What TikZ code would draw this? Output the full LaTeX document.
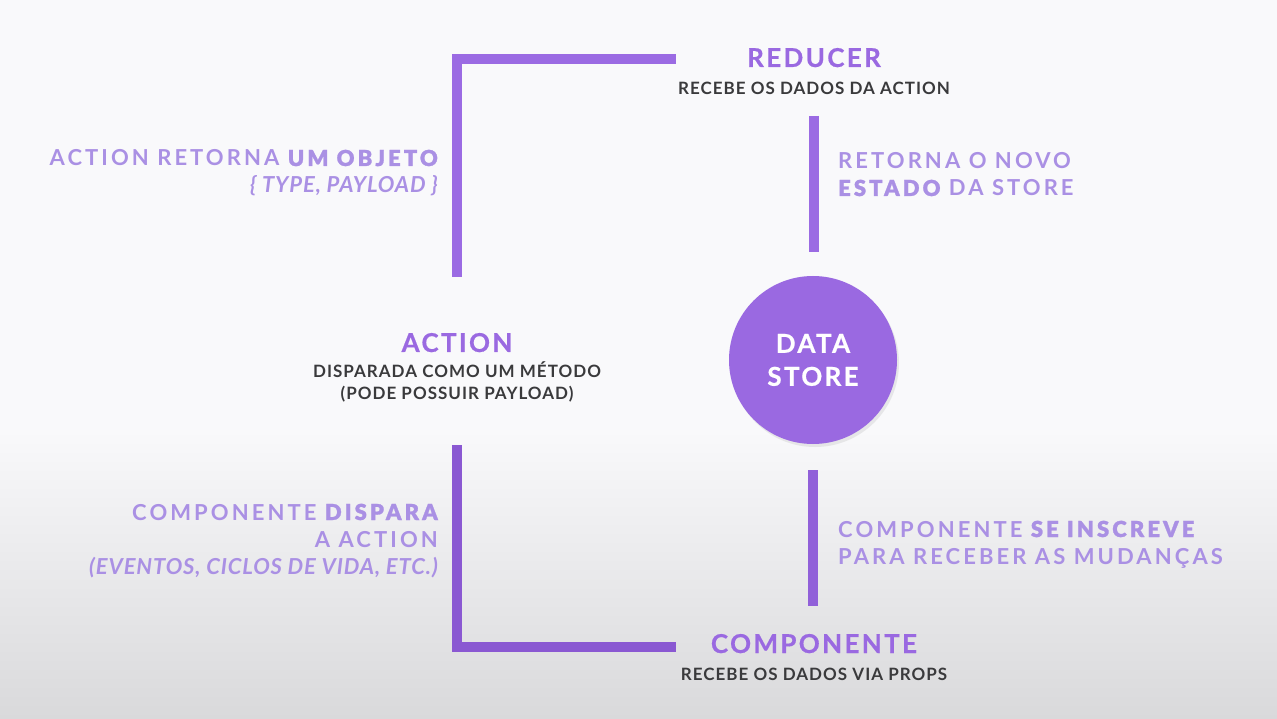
\documentclass[tikz,border=0pt]{standalone}
\usepackage{fontspec}
\setmainfont{Lato}
\newfontfamily\headfont[LetterSpace=9,FakeBold=0.6]{Lato Bold}
\newfontfamily\subfont[LetterSpace=6]{Lato}
\newfontfamily\notefont[LetterSpace=14]{Lato}
\newfontfamily\noteitalic[LetterSpace=4]{Lato}
\newfontfamily\noteheavy[LetterSpace=14,FakeBold=1.2]{Lato Bold}
\usetikzlibrary{shadows}
\definecolor{rxPurple}{HTML}{9A69E1}
\definecolor{rxLine}{HTML}{9B6BE3}
\definecolor{rxLineDark}{HTML}{8A58D2}
\definecolor{rxNote}{HTML}{AA90E4}
\definecolor{rxDark}{HTML}{3A3A3C}
\definecolor{bgTop}{HTML}{F9F9FB}
\definecolor{bgBottom}{HTML}{D9D9DB}
\newcommand{\hv}[1]{{\noteheavy #1}}
\newcommand{\itx}[1]{{\noteitalic\bfseries\itshape #1}}

\begin{document}
\begin{tikzpicture}[x=1pt,y=-1pt,
    stagetitle/.style={text=rxPurple, font=\headfont\fontsize{26}{28}\selectfont, inner sep=0pt, anchor=base},
    stagesub/.style={text=rxDark, font=\subfont\bfseries\fontsize{17}{21}\selectfont, inner sep=0pt, anchor=base, align=center},
    note/.style={text=rxNote, font=\notefont\bfseries\fontsize{22}{27}\selectfont, inner sep=0pt},
    bar/.style={line width=10pt, rxLine},
    storecircle/.style={circle, fill=rxPurple, minimum size=168pt, inner sep=0pt, text=white,
      font=\headfont\fontsize{26}{33}\selectfont, align=center,
      drop shadow={opacity=0.15, shadow xshift=2pt, shadow yshift=-3pt}}]
    \useasboundingbox (0,0) rectangle (1277,719);
    % Background
    \fill[bgTop] (0,0) rectangle (1277,719);
    \shade[top color=bgTop, bottom color=bgBottom] (0,430) rectangle (1277,719);
    % Stages
    \node[stagetitle] (reducer) at (814,67) {REDUCER};
    \node[stagesub] (reducerSub) at (814,95) {RECEBE OS DADOS DA ACTION};
    \node[stagetitle] (action) at (457,352) {ACTION};
    \node[stagesub] (actionSub) at (457,399) {DISPARADA COMO UM MÉTODO\\(PODE POSSUIR PAYLOAD)};
    \node[stagetitle] (comp) at (814,653) {COMPONENTE};
    \node[stagesub] (compSub) at (814,680) {RECEBE OS DADOS VIA PROPS};
    \node[storecircle] (store) at (813,360) {DATA\\STORE};
    % Bars
    \coordinate (actTop) at (457,277);
    \coordinate (redLeft) at (676,59);
    \coordinate (actBottom) at (457,445);
    \coordinate (compLeft) at (676,647);
    \draw[bar] (actTop) |- (redLeft);
    \draw[bar, rxLineDark] (actBottom) |- (compLeft);
    \draw[bar] (reducer |- 0,116) -- (reducer |- 0,252);
    \draw[bar, rxLineDark!60!rxLine] (store |- 0,470) -- (store |- 0,606);
    % Notes
    \node[note, anchor=base east, align=right] (lblObjeto) at (438,193)
      {ACTION RETORNA \hv{UM OBJETO}\\\itx{\{ TYPE, PAYLOAD \}}};
    \node[note, anchor=base west, align=left] (lblRetorna) at (838,196)
      {RETORNA O NOVO\\\hv{ESTADO} DA STORE};
    \node[note, anchor=base east, align=right] (lblDispara) at (438,574)
      {COMPONENTE \hv{DISPARA}\\A ACTION\\\itx{(EVENTOS, CICLOS DE VIDA, ETC.)}};
    \node[note, anchor=base west, align=left] (lblInscreve) at (838,564)
      {COMPONENTE \hv{SE INSCREVE}\\PARA RECEBER AS MUDANÇAS};
\end{tikzpicture}
\end{document}
